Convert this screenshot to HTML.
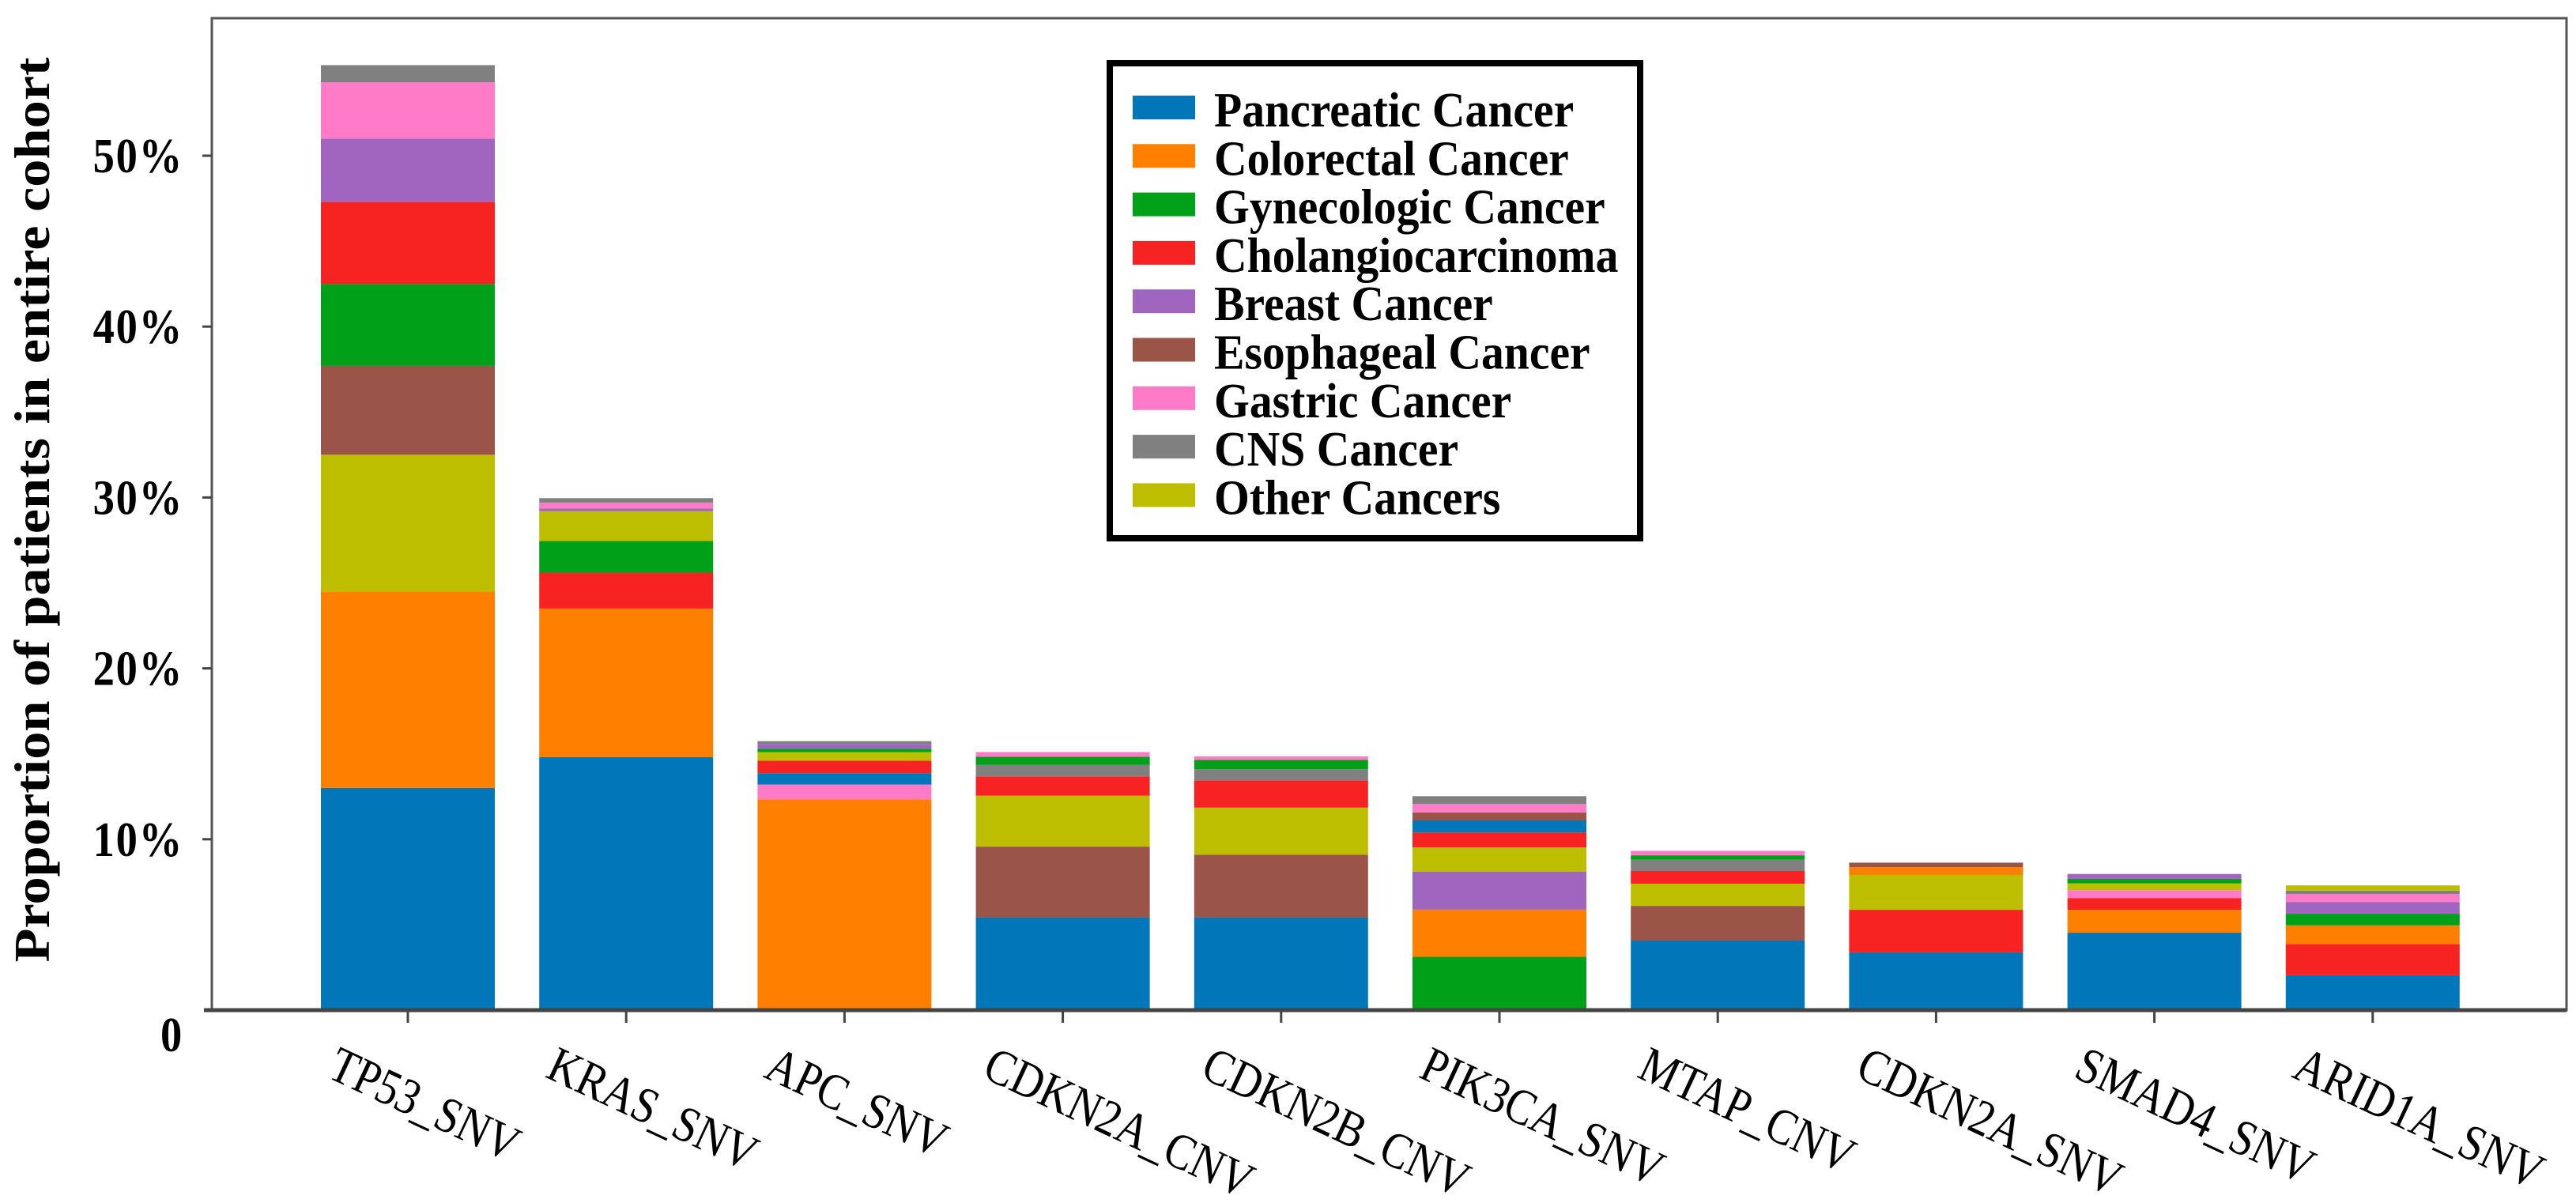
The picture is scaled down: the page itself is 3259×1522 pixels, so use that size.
<!DOCTYPE html>
<html><head><meta charset="utf-8"><style>
html,body{margin:0;padding:0;background:#fff;}
svg{display:block;}
text{font-family:"Liberation Serif","Times New Roman",serif;}
</style></head><body>
<svg id="chart" width="3259" height="1522" viewBox="0 0 3259 1522" xmlns="http://www.w3.org/2000/svg">
<rect x="0" y="0" width="3259" height="1522" fill="#fff"/>
<g id="bars"></g>
<g id="axes"></g>
<text transform="translate(62,645) rotate(-90)" text-anchor="middle" font-size="64" font-weight="bold" textLength="1145" lengthAdjust="spacingAndGlyphs">Proportion of patients in entire cohort</text>
<g id="legend"></g>
</svg>
<script>
const categories = ["TP53_SNV","KRAS_SNV","APC_SNV","CDKN2A_CNV","CDKN2B_CNV","PIK3CA_SNV","MTAP_CNV","CDKN2A_SNV","SMAD4_SNV","ARID1A_SNV"];
const seriesNames = ["Pancreatic Cancer","Colorectal Cancer","Gynecologic Cancer","Cholangiocarcinoma","Breast Cancer","Esophageal Cancer","Gastric Cancer","CNS Cancer","Other Cancers"];
const seriesColors = ["#0176B8","#FF7F00","#00A018","#F72323","#A066BF","#9B5548","#FF7BC8","#808080","#BDBE00"];
// values (% of cohort) per series, one per category
const pancreatic   = [13.0,14.8,0.67,5.43,5.43,0.70,4.07,3.38,4.53,2.04];
const colorectal   = [11.5,8.7,12.34,0,0,2.76,0,0.46,1.34,1.09];
const gynecologic  = [4.8,1.85,0.20,0.47,0.54,3.12,0.26,0,0.26,0.68];
const cholangio    = [4.8,2.1,0.73,1.13,1.60,0.88,0.74,2.49,0.69,1.83];
const breast       = [3.7,0.16,0.27,0,0,2.23,0,0,0.29,0.69];
const esophageal   = [5.2,0,0,4.14,3.67,0.47,2.03,0.26,0,0];
const gastric      = [3.3,0.34,0.86,0.27,0.21,0.49,0.26,0,0.46,0.47];
const cns          = [1.0,0.26,0.17,0.68,0.65,0.46,0.66,0,0,0.19];
const other        = [8.0,1.75,0.50,2.98,2.75,1.41,1.30,2.04,0.40,0.31];
const seriesValues = [pancreatic,colorectal,gynecologic,cholangio,breast,esophageal,gastric,cns,other];
// stacking order (series index, bottom to top) for each category
const stackOrder = [
 [0,1,8,5,2,3,4,6,7],
 [0,1,3,2,8,4,6,7],
 [1,6,0,3,8,2,4,7],
 [0,5,8,3,7,2,6],
 [0,5,8,3,7,2,6],
 [2,1,4,8,3,0,5,6,7],
 [0,5,8,3,7,2,6],
 [0,3,8,1,5],
 [0,1,3,6,8,2,4],
 [0,3,1,2,4,6,7,8]
];
const yTicks = [0,10,20,30,40,50];
const yTickLabels = ["0","10%","20%","30%","40%","50%"];

const NS="http://www.w3.org/2000/svg";
const plot={left:268,right:3247,top:23,bottom:1278};
const yScale=v=>plot.bottom - v*21.62;
const xCenter=i=>516 + i*276.2;
const barW=220;
function mk(tag,attrs,parent){const e=document.createElementNS(NS,tag);for(const k in attrs)e.setAttribute(k,attrs[k]);parent.appendChild(e);return e;}

const gb=document.getElementById('bars');
categories.forEach((c,i)=>{
  let cum=0;
  stackOrder[i].forEach(s=>{
    const v=seriesValues[s][i];
    if(!v) return;
    const y1=yScale(cum), y2=yScale(cum+v);
    const r=mk('rect',{x:xCenter(i)-barW/2,y:y2,width:barW,height:y1-y2,fill:seriesColors[s]},gb);
    
    
    cum+=v;
  });
});

const ga=document.getElementById('axes');
const frame=mk('rect',{x:plot.left,y:plot.top,width:plot.right-plot.left,height:plot.bottom-plot.top,fill:'none',stroke:'#555',"stroke-width":3},ga);


const xl=mk('line',{x1:plot.left-10,x2:plot.right,y1:plot.bottom,y2:plot.bottom,stroke:'#444',"stroke-width":5},ga);


yTicks.forEach((t,k)=>{
  const y=yScale(t);
  if(t>0){
    const tk=mk('line',{x1:plot.left-12,x2:plot.left,y1:y,y2:y,stroke:'#444',"stroke-width":3},ga);
    
    
  }
  const tx=mk('text',{transform:`translate(232,${t===0?y+52:y+21}) scale(0.88,1)`,"text-anchor":"end","font-size":62,"font-weight":"bold","letter-spacing":2},ga);
  tx.textContent=yTickLabels[k];
  
  
});
categories.forEach((c,i)=>{
  const x=xCenter(i);
  const tk=mk('line',{x1:x,x2:x,y1:plot.bottom,y2:plot.bottom+16,stroke:'#444',"stroke-width":3},ga);
  
  
  const tx=mk('text',{transform:`translate(${x-104},1362) rotate(25) scale(0.86,1)`,"font-size":64},ga);
  tx.textContent=c;
  
  
});

const gl=document.getElementById('legend');
const box=mk('rect',{x:1404,y:80,width:671,height:601,fill:'#fff',stroke:'#000',"stroke-width":8},gl);


seriesNames.forEach((n,i)=>{
  const g=mk('g',{},gl);
  
  
  const sw=mk('rect',{x:1433,y:121+i*61.3,width:79,height:30,fill:seriesColors[i]},g);
  
  
  const t=mk('text',{transform:`translate(1536,${160+i*61.3}) scale(0.93,1)`,"font-size":62,"font-weight":"bold"},g);
  t.textContent=n;
  
  
});
</script>
</body></html>
